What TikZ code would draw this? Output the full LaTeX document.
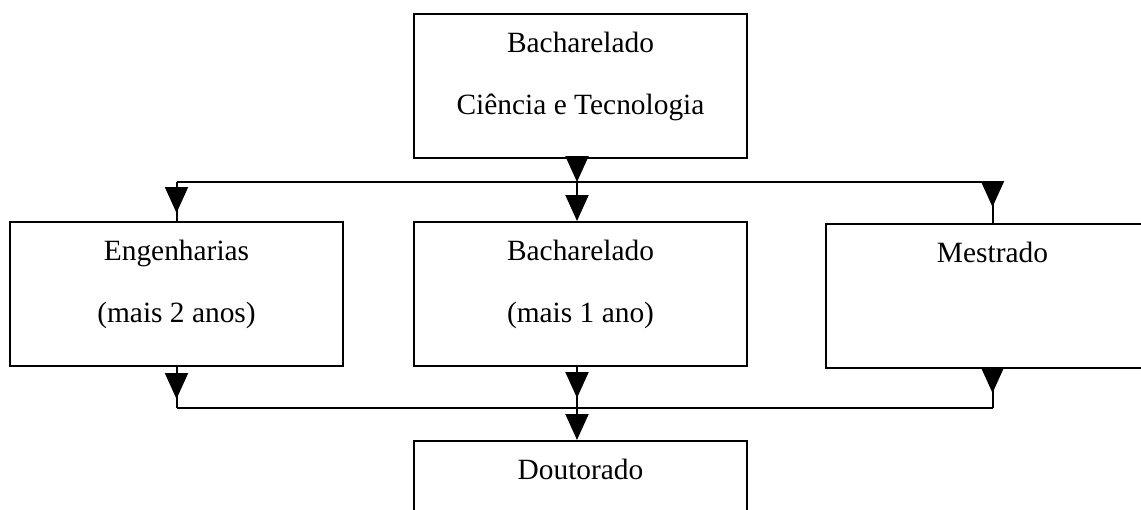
\documentclass[tikz,border=0pt]{standalone}
\usepackage{fontspec}
\setmainfont{Liberation Serif}
\usetikzlibrary{arrows.meta,decorations.markings,positioning}

\tikzset{
  seta/.tip={Triangle[width=11.5pt,length=13pt]},
  tipat/.style={postaction={decorate,decoration={markings,% distance of the tip along the line
      mark=at position #1 with {\arrow{seta}}}}}
}

\begin{document}
\begin{tikzpicture}[x=0.5pt,y=-0.5pt,line width=1pt,
  caixa/.style={draw,rectangle,minimum width=166.5pt,minimum height=72pt,inner sep=0pt},
  texto/.style={font=\fontsize{14.7}{17}\selectfont,anchor=base,inner sep=0pt}]

\useasboundingbox (0,0) rectangle (1141,509);
\clip (0,0) rectangle (1141,509);

% caixas
\node[caixa] (bct) at (580.5,86) {};
\node[caixa] (eng) at (176.5,294) {};
\node[caixa] (bach) at (580.5,294) {};
\node[caixa] (mest) at (992.5,296) {};
\node[caixa] (dout) at (580.5,513) {};

% textos
\node[texto] (bct1) at ([yshift=-19.5pt]bct.north) {Bacharelado};
\node[texto] (bct2) at ([yshift=-50.5pt]bct.north) {Ciência e Tecnologia};
\node[texto] (eng1) at ([yshift=-19.5pt]eng.north) {Engenharias};
\node[texto] (eng2) at ([yshift=-50.5pt]eng.north) {(mais 2 anos)};
\node[texto] (bach1) at ([yshift=-19.5pt]bach.north) {Bacharelado};
\node[texto] (bach2) at ([yshift=-50.5pt]bach.north) {(mais 1 ano)};
\node[texto] (mest1) at ([yshift=-19.5pt]mest.north) {Mestrado};
\node[texto] (dout1) at ([yshift=-19.5pt]dout.north) {Doutorado};

% pontos das linhas
\coordinate (s1) at (176.5,182);
\coordinate (s2) at (577,182);
\coordinate (s3) at (992.5,182);
\coordinate (d1) at (176.5,408);
\coordinate (d2) at (577,408);
\coordinate (d3) at (992.5,408);

\draw (s1) -- (s3);
\draw[-seta] (bct.south -| s2) -- (s2);
\draw[tipat=15.5pt] (s1) -- (eng);
\draw[-seta] (s2) -- (bach.north -| s2);
\draw[tipat=12.5pt] (s3) -- (mest);

\draw[tipat=16pt] (eng) -- (d1);
\draw[tipat=15.5pt] (bach.south -| d2) -- (d2);
\draw[tipat=12pt] (mest) -- (d3);
\draw (d1) -- (d3);
\draw[-seta] (d2) -- (dout.north -| d2);

\end{tikzpicture}
\end{document}
